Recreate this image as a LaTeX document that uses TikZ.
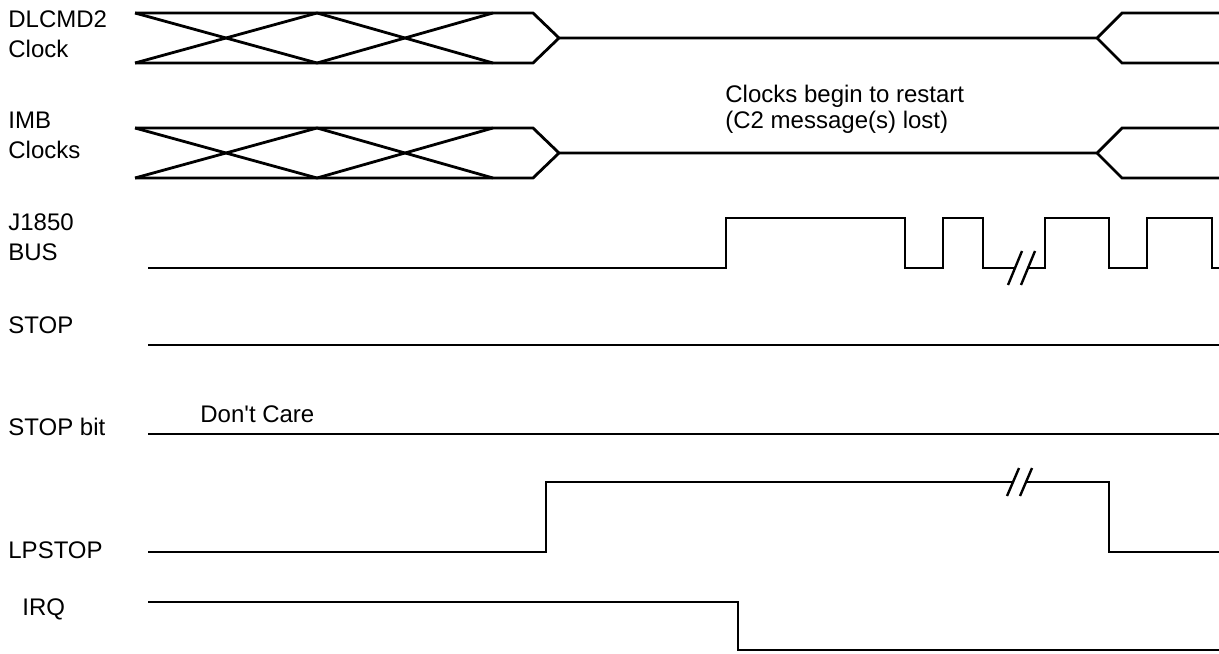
\documentclass[tikz,border=0pt]{standalone}
\usepackage{fontspec}
\setmainfont{Liberation Sans}
\usepackage{tikz}

\begin{document}
\begin{tikzpicture}[
  x=0.5pt, y=-0.5pt,
  font=\fontsize{12}{14.75}\selectfont,
  sig/.style={line width=1.4pt},
  brk/.style={line width=1.2pt},
  lbl/.style={anchor=base west, inner sep=0pt, align=left},
  note/.style={lbl, font=\fontsize{12}{13}\selectfont}
]
\useasboundingbox (0,0) rectangle (1219,653);

% signal names (base = last line)
\node[lbl] (dlcmd) at (8,57) {DLCMD2\\Clock};
\node[lbl] (imb) at (8,158) {IMB\\Clocks};
\node[lbl] (j1850) at (8,260) {J1850\\BUS};
\node[lbl] (stop) at (8,333) {STOP};
\node[lbl] (stopbit) at (8,435) {STOP bit};
\node[lbl] (lpstop) at (8,558) {LPSTOP};
\node[lbl] (irq) at (22,615) {IRQ};
\node[lbl] (dontcare) at (200,422) {Don\textquotesingle t Care};
\node[note] (restart) at (725,128) {Clocks begin to restart\\(C2 message(s) lost)};

% clock busses
\foreach \yb in {0,115} {
  \draw[sig] (135,13+\yb) -- (533,13+\yb) -- (559,38+\yb) -- (533,63+\yb) -- (135,63+\yb);
  \draw[sig] (135,13+\yb) -- (317,63+\yb) -- (493,13+\yb);
  \draw[sig] (135,63+\yb) -- (317,13+\yb) -- (493,63+\yb);
  \draw[sig] (559,38+\yb) -- (1097,38+\yb) -- (1122,13+\yb) -- (1219,13+\yb);
  \draw[sig] (1097,38+\yb) -- (1122,63+\yb) -- (1219,63+\yb);
}

% J1850 bus
\draw[sig] (148,268) -- (726,268) -- (726,218) -- (905,218) -- (905,268)
  -- (943,268) -- (943,218) -- (983,218) -- (983,268) -- (1015,268);
\draw[sig] (1028,268) -- (1045,268) -- (1045,218) -- (1109,218) -- (1109,268)
  -- (1147,268) -- (1147,218) -- (1212,218) -- (1212,268) -- (1219,268);
\draw[brk] (1008,285) -- (1022,251);
\draw[brk] (1021,285) -- (1035,251);

% STOP, STOP bit
\draw[sig] (148,345) -- (1219,345);
\draw[sig] (148,434) -- (1219,434);

% LPSTOP
\draw[sig] (148,552) -- (546,552) -- (546,482) -- (1013,482);
\draw[sig] (1026,482) -- (1109,482) -- (1109,552) -- (1219,552);
\draw[brk] (1007,496) -- (1019,468);
\draw[brk] (1020,496) -- (1032,468);

% IRQ
\draw[sig] (148,602) -- (738,602) -- (738,650) -- (1219,650);
\end{tikzpicture}
\end{document}
